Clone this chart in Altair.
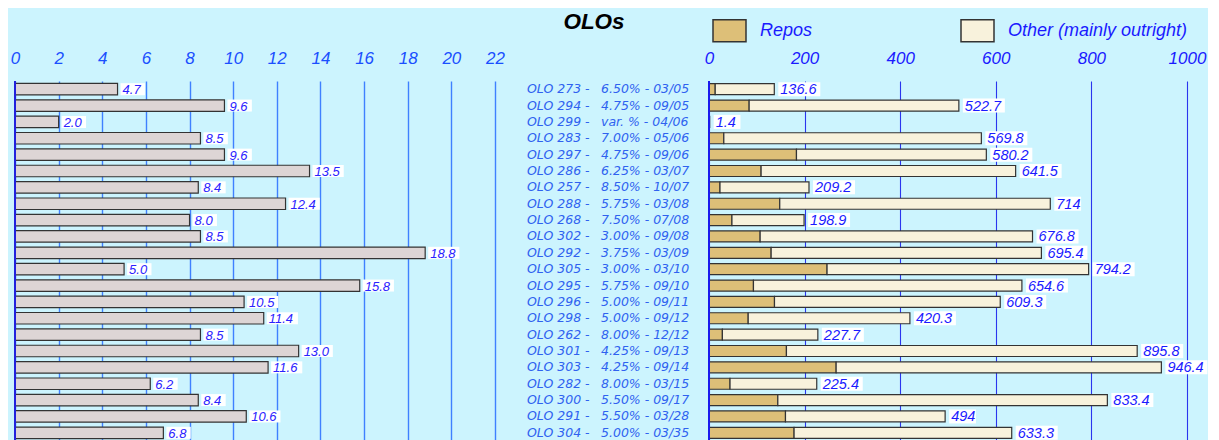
import altair as alt
import pandas as pd

names = ["OLO 273 -", "OLO 294 -", "OLO 299 -", "OLO 283 -", "OLO 297 -", "OLO 286 -",
         "OLO 257 -", "OLO 288 -", "OLO 268 -", "OLO 302 -", "OLO 292 -", "OLO 305 -",
         "OLO 295 -", "OLO 296 -", "OLO 298 -", "OLO 262 -", "OLO 301 -", "OLO 303 -",
         "OLO 282 -", "OLO 300 -", "OLO 291 -", "OLO 304 -"]
coupons = ["6.50% - 03/05", "4.75% - 09/05", "var. % - 04/06", "7.00% - 05/06",
           "4.75% - 09/06", "6.25% - 03/07", "8.50% - 10/07", "5.75% - 03/08",
           "7.50% - 07/08", "3.00% - 09/08", "3.75% - 03/09", "3.00% - 03/10",
           "5.75% - 09/10", "5.00% - 09/11", "5.00% - 09/12", "8.00% - 12/12",
           "4.25% - 09/13", "4.25% - 09/14", "8.00% - 03/15", "5.50% - 09/17",
           "5.50% - 03/28", "5.00% - 03/35"]
left_vals = [4.7, 9.6, 2.0, 8.5, 9.6, 13.5, 8.4, 12.4, 8.0, 8.5, 18.8, 5.0,
             15.8, 10.5, 11.4, 8.5, 13.0, 11.6, 6.2, 8.4, 10.6, 6.8]
totals = [136.6, 522.7, 1.4, 569.8, 580.2, 641.5, 209.2, 714, 198.9, 676.8, 695.4,
          794.2, 654.6, 609.3, 420.3, 227.7, 895.8, 946.4, 225.4, 833.4, 494, 633.3]
repos = [13, 84, 0, 31, 183, 109, 23, 148, 48, 107, 130, 247, 93, 137, 82, 28,
         162, 266, 44, 144, 160, 178]
types = ["Repos", "Other (mainly outright)"]
type_colors = ["#DDBF78", "#F8F2DC"]
left_ticks = list(range(0, 23, 2))
right_ticks = list(range(0, 1001, 200))

BG = "#CCF4FE"
FONT = "Liberation Sans"
H = 360
LW, CW, RW = 480, 214, 478

ysc = alt.Y("name:N", sort=names, axis=None,
            scale=alt.Scale(paddingInner=0, paddingOuter=0))

# ---------- left panel ----------
left_df = pd.DataFrame({"name": names, "val": left_vals,
                        "lab": [f"{v:.1f}" for v in left_vals]})
lx_scale = alt.Scale(domain=[0, 22], nice=False)
lbase = alt.Chart(left_df).encode(y=ysc)
l_bars = lbase.mark_bar(height=11.5, fill="#DDD5D5", stroke="#333333", strokeWidth=1.2).encode(
    x=alt.X("val:Q", scale=lx_scale, title=None,
            axis=alt.Axis(orient="top", values=left_ticks, grid=True, gridColor="#3F80FF",
                          gridWidth=1.4, domain=False, ticks=False, labelPadding=14,
                          labelFontSize=17, labelFont=FONT, labelFontStyle="italic",
                          labelColor="#1A4FFF", labelFlush=False, format="d"))
)
l_box = lbase.transform_calculate(
    x2="datum.val + (length(datum.lab) * 6.8 + 4) / 21.82"
).mark_bar(height=12, fill="white", xOffset=3, x2Offset=3).encode(
    x=alt.X("val:Q", scale=lx_scale), x2="x2:Q")
l_txt = lbase.mark_text(align="left", dx=5, dy=1, fontSize=13, font=FONT, fontStyle="italic",
                        color="#2A22FF").encode(x=alt.X("val:Q", scale=lx_scale), text="lab:N")
l_zero = alt.Chart(pd.DataFrame({"z": [0]})).mark_rule(color="#2222DD", strokeWidth=2).encode(
    x=alt.X("z:Q", scale=lx_scale))
left = alt.layer(l_box, l_txt, l_bars, l_zero).properties(width=LW, height=H)

# ---------- center labels ----------
c_df = pd.DataFrame({"name": names, "coupon": coupons})
cbase = alt.Chart(c_df).encode(y=ysc)
c1 = cbase.mark_text(align="left", font="DejaVu Sans", fontSize=12.5, fontStyle="italic",
                     color="#2F62F0").encode(x=alt.value(32), text="name:N")
c2 = cbase.mark_text(align="left", font="DejaVu Sans", fontSize=12.5, fontStyle="italic",
                     color="#2F62F0").encode(x=alt.value(106), text="coupon:N")
center = alt.layer(c1, c2).properties(
    width=CW, height=H,
    title=alt.Title("OLOs", font=FONT, fontSize=22.5, fontStyle="italic", fontWeight="bold",
                    color="black", dx=-8, offset=48, anchor="middle"))

# ---------- right panel ----------
rows = []
for n, t, r in zip(names, totals, repos):
    rows.append({"name": n, "type": types[0], "v": r, "ord": 0})
    rows.append({"name": n, "type": types[1], "v": round(t - r, 1), "ord": 1})
r_long = pd.DataFrame(rows)
r_tot = pd.DataFrame({"name": names, "total": totals, "lab": [f"{t:g}" for t in totals]})
rx_scale = alt.Scale(domain=[0, 1000], nice=False)

r_bars = alt.Chart(r_long).mark_bar(height=11, stroke="#333333", strokeWidth=1.2).encode(
    y=ysc,
    x=alt.X("v:Q", stack="zero", scale=rx_scale, title=None,
            axis=alt.Axis(orient="top", values=right_ticks, grid=True, gridColor="#2A35EE",
                          gridWidth=1.1, domain=False, ticks=False, labelPadding=14,
                          labelFontSize=17, labelFont=FONT, labelFontStyle="italic",
                          labelColor="#1A1AFF", labelFlush=False, format="d")),
    color=alt.Color("type:N", scale=alt.Scale(domain=types, range=type_colors),
                    legend=alt.Legend(orient="none", legendX=697, legendY=-68, direction="horizontal",
                                      title=None, symbolType="M-1,-0.667H1V0.667H-1Z",
                                      symbolSize=1089, symbolStrokeColor="#333333",
                                      symbolStrokeWidth=1.5, symbolOpacity=1,
                                      labelFontSize=18, labelFont=FONT, labelFontStyle="italic",
                                      labelColor="#1A1AFF", labelOffset=13, columnPadding=145,
                                      labelLimit=400)),
    order=alt.Order("ord:Q"),
)
rbase = alt.Chart(r_tot).encode(y=ysc)
r_box = rbase.transform_calculate(
    x2="datum.total + (length(datum.lab) * 7.6 + 4) / 0.478"
).mark_bar(height=14, fill="white", xOffset=4, x2Offset=4).encode(
    x=alt.X("total:Q", scale=rx_scale), x2="x2:Q")
r_txt = rbase.mark_text(align="left", dx=6, dy=1, fontSize=14.5, font=FONT, fontStyle="italic",
                        color="#1A1AFF").encode(x=alt.X("total:Q", scale=rx_scale), text="lab:N")
r_zero = alt.Chart(pd.DataFrame({"z": [0]})).mark_rule(color="#1A1AEE", strokeWidth=2).encode(
    x=alt.X("z:Q", scale=rx_scale))
right = alt.layer(r_box, r_txt, r_bars, r_zero).properties(width=RW, height=H)

chart = alt.hconcat(left, center, right, spacing=0, bounds="flush").properties(
    background=BG, padding={"left": 2, "top": 2, "right": 0, "bottom": 0}
).configure_view(stroke=None)

chart.save("out.html", embed_options={"renderer": "svg", "actions": False})
